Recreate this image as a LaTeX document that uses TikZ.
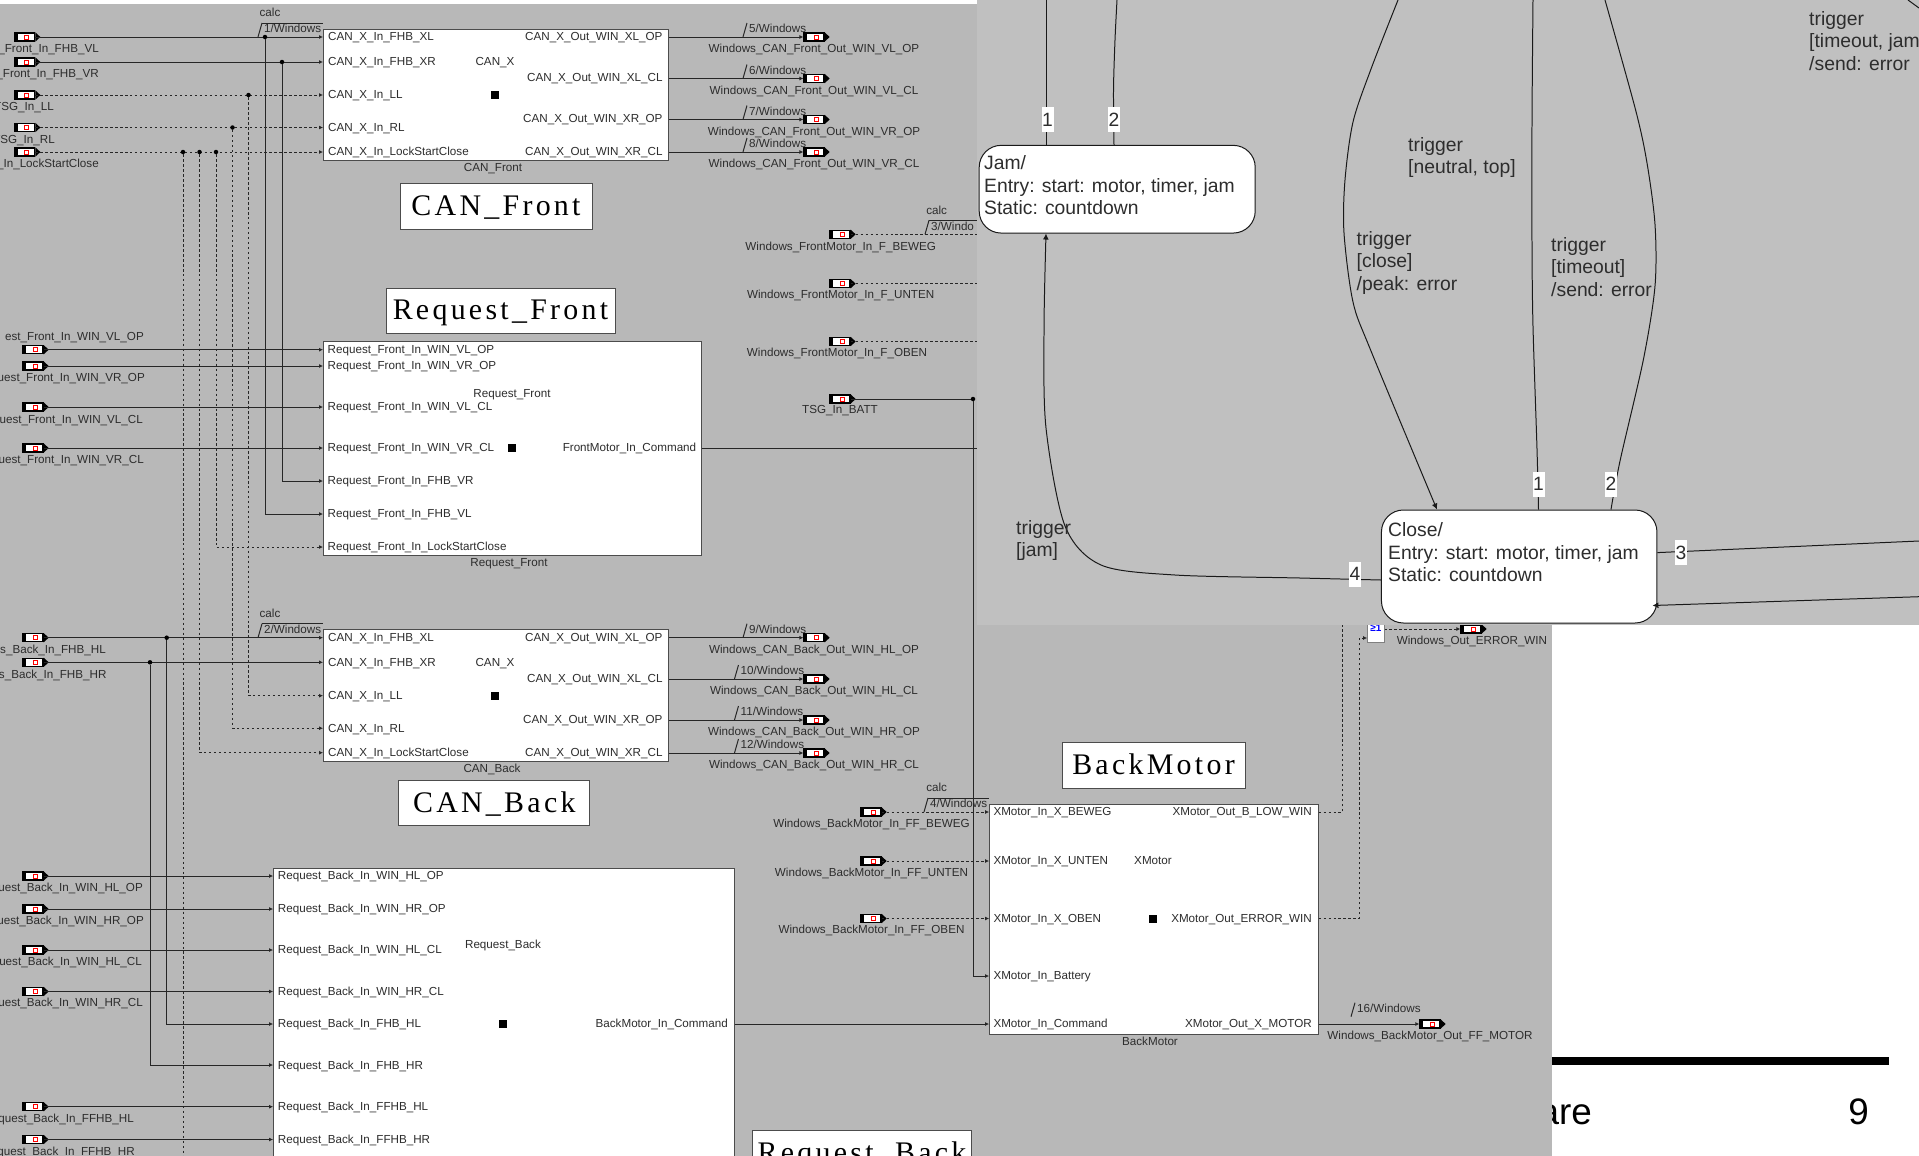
\documentclass[tikz,border=0pt]{standalone}
\usepackage{fontspec}
\setmainfont{Liberation Sans}
\newfontfamily\titlefont[LetterSpace=11]{Liberation Serif}
\usepackage{xcolor}
\usepackage{tikz}
\usetikzlibrary{arrows.meta,calc}
\definecolor{panelgray}{RGB}{184,184,184}
\definecolor{stategray}{RGB}{192,192,192}
\definecolor{inkgray}{RGB}{45,45,45}

\newcommand{\portsym}[3]{%
  \node[portbox] (#1) at (#2+10,#3) {};
  \fill (#1.north west) rectangle ($(#1.south west)+(4,0)$);
  \fill (#1.north east) -- ($(#1.east)+(5,0)$) -- (#1.south east) -- cycle;
  \node[portmark] (#1m) at ($(#1.center)+(2,0)$) {};
}
\newcommand{\bussig}[4]{%
  \coordinate (#1a) at (#2,#3);
  \coordinate (#1b) at (#2+4,#3-14);
  \draw[sig] (#1a) -- (#1b);
  \node[lbl, anchor=west] (#1t) at (#2+6,#3-8) {#4};
}
\catcode`\_=12

\begin{document}
\begin{tikzpicture}[x=1bp, y=-1bp,
  lbl/.style={font=\fontsize{11.7}{13}\selectfont, text=inkgray, inner sep=0pt,
              text height=8pt, text depth=0pt},
  sig/.style={line width=1pt, black!85},
  sigin/.style={sig, -{Latex[length=4pt,width=4pt]}},
  dsh/.style={dash pattern=on 2.5pt off 2.5pt},
  portbox/.style={rectangle, draw=black, line width=1.3pt, fill=white,
                  minimum width=20bp, minimum height=8bp, inner sep=0pt},
  portmark/.style={rectangle, draw=red, line width=1pt, fill=white,
                   minimum size=4bp, inner sep=0pt},
  block/.style={rectangle, draw=black!70, line width=1pt, fill=white, inner sep=0pt},
  titlebox/.style={rectangle, draw=black!70, line width=1pt, fill=white, inner sep=0pt,
                   font=\titlefont\fontsize{30}{30}\selectfont, text=black,
                   text height=19pt, text depth=0pt},
  junc/.style={circle, fill=black, minimum size=4.5bp, inner sep=0pt},
  cent/.style={rectangle, fill=black, minimum size=8bp, inner sep=0pt},
  statebox/.style={rectangle, draw=black!90, line width=1pt, fill=white,
                   rounded corners=22pt, inner sep=0pt},
  stxt/.style={font=\fontsize{19.4}{22.6}\selectfont, text=inkgray, inner sep=0pt,
               align=left, anchor=north west},
  trans/.style={line width=1pt, black!90},
  transin/.style={trans, -{Latex[length=6pt,width=6pt]}},
  numtag/.style={rectangle, fill=white, inner sep=0pt, minimum width=12bp, minimum height=25bp,
                 font=\fontsize{19.3}{22}\selectfont, text=inkgray},
  pagetxt/.style={font=\fontsize{37}{37}\selectfont, text=black, inner sep=0pt},
]
\useasboundingbox (0,0) rectangle (1919,1155.2);
\clip (0,0) rectangle (1919,1155.2);
\fill[white] (0,0) rectangle (1919,1157);

%% ── Page behind the panels ─────────────────────────────────────────────
\fill[black] (1500,1057) rectangle (1888.5,1065);
\node[pagetxt, anchor=base east] (foot) at (1592,1124) {are};
\node[pagetxt, anchor=base] (pnum) at (1858.5,1124) {9};

%% ── Lower panel ────────────────────────────────────────────────────────
\fill[panelgray] (0,4) rectangle (1552,1157);
\coordinate (edge) at (977,0);

%% ── Blocks ─────────────────────────────────────────────────────────────
\node[block, minimum width=345.2bp, minimum height=131bp]   (canf) at (496.1,94.5) {};
\node[block, minimum width=345.2bp, minimum height=131.3bp] (canb) at (496.1,695.4) {};
\node[block, minimum width=378bp, minimum height=213.3bp]   (reqf) at (512.5,448.4) {};
\node[block, minimum width=460.5bp, minimum height=400bp]   (reqb) at (503.8,1068) {};
\node[block, minimum width=328.5bp, minimum height=230bp]   (bmot) at (1153.8,919) {};

%% ── Block titles ───────────────────────────────────────────────────────
\node[titlebox, minimum width=192bp, minimum height=46bp] (canft) at (496,206)   {CAN_Front};
\node[titlebox, minimum width=229bp, minimum height=45bp] (reqft) at (500.5,310.5) {Request_Front};
\node[titlebox, minimum width=191bp, minimum height=45bp] (canbt) at (494.3,803.3) {CAN_Back};
\node[titlebox, minimum width=183bp, minimum height=46bp] (bmott) at (1153.5,765) {BackMotor};
\node[titlebox, minimum width=219bp, minimum height=46bp] (reqbt) at (862,1153)  {Request_Back};

%% ── CAN_X pins ─────────────────────────────────────────────────────────
\foreach \b/\d in {canf/0, canb/600.7} {
  \foreach \t/\y [count=\i] in {CAN_X_In_FHB_XL/37, CAN_X_In_FHB_XR/62, CAN_X_In_LL/95,
                                CAN_X_In_RL/127.5, CAN_X_In_LockStartClose/152} {
    \node[lbl, anchor=west] (\b i\i) at (328,\y+\d) {\t};
  }
  \foreach \t/\y [count=\i] in {CAN_X_Out_WIN_XL_OP/37, CAN_X_Out_WIN_XL_CL/78,
                                CAN_X_Out_WIN_XR_OP/119, CAN_X_Out_WIN_XR_CL/152} {
    \node[lbl, anchor=east] (\b o\i) at (662.7,\y+\d) {\t};
  }
  \node[lbl] (\b x) at (495,62+\d) {CAN_X};
  \node[cent] (\b c) at (495,95+\d) {};
}
\node[lbl] (canfn) at (493,168) {CAN_Front};
\node[lbl] (canbn) at (492,769) {CAN_Back};

%% ── Request pins ───────────────────────────────────────────────────────
\foreach \t/\y [count=\i] in {Request_Front_In_WIN_VL_OP/349.7, Request_Front_In_WIN_VR_OP/366,
                              Request_Front_In_WIN_VL_CL/407, Request_Front_In_WIN_VR_CL/448,
                              Request_Front_In_FHB_VR/481, Request_Front_In_FHB_VL/514,
                              Request_Front_In_LockStartClose/547} {
  \node[lbl, anchor=west] (rfi\i) at (327.5,\y) {\t};
}
\node[lbl] (rfx) at (512,394) {Request_Front};
\node[cent] (rfc) at (511.6,448) {};
\node[lbl, anchor=east] (rfo) at (696.4,448) {FrontMotor_In_Command};
\node[lbl] (reqfn) at (509,563) {Request_Front};

\foreach \t/\y [count=\i] in {Request_Back_In_WIN_HL_OP/876, Request_Back_In_WIN_HR_OP/909,
                              Request_Back_In_WIN_HL_CL/950, Request_Back_In_WIN_HR_CL/991.5,
                              Request_Back_In_FHB_HL/1024, Request_Back_In_FHB_HR/1065,
                              Request_Back_In_FFHB_HL/1106.7, Request_Back_In_FFHB_HR/1139.5} {
  \node[lbl, anchor=west] (rbi\i) at (277.7,\y) {\t};
}
\node[lbl] (rbx) at (503,945) {Request_Back};
\node[cent] (rbc) at (503,1023.5) {};
\node[lbl, anchor=east] (rbo) at (728,1024) {BackMotor_In_Command};

%% ── XMotor pins ────────────────────────────────────────────────────────
\foreach \t/\y [count=\i] in {XMotor_In_X_BEWEG/812, XMotor_In_X_UNTEN/861, XMotor_In_X_OBEN/918.5,
                              XMotor_In_Battery/976, XMotor_In_Command/1024} {
  \node[lbl, anchor=west] (xmi\i) at (993.3,\y) {\t};
}
\node[lbl, anchor=east] (xmo1) at (1312,812)    {XMotor_Out_B_LOW_WIN};
\node[lbl, anchor=east] (xmo2) at (1312,918.5)  {XMotor_Out_ERROR_WIN};
\node[lbl, anchor=east] (xmo3) at (1312,1024)   {XMotor_Out_X_MOTOR};
\node[lbl] (xmx) at (1153,861) {XMotor};
\node[cent] (xmc) at (1153,918.5) {};
\node[lbl] (bmotn) at (1150,1042) {BackMotor};

%% ── Input ports, left column ───────────────────────────────────────────
\foreach \n/\px/\y/\lx/\ly/\t in {
    pfvl/14.7/37/99/49/_Front_In_FHB_VL,
    pfvr/14.7/62/99/74/_Front_In_FHB_VR,
    ptll/14.7/95/54/107/TSG_In_LL,
    ptrl/14.7/127.5/55/140/TSG_In_RL,
    plck/14.7/152/99/164/_In_LockStartClose,
    prf1/23/349.7/144/337/est_Front_In_WIN_VL_OP,
    prf2/23/366/145/378/uest_Front_In_WIN_VR_OP,
    prf3/23/407/143/419.7/uest_Front_In_WIN_VL_CL,
    prf4/23/448/144/460/uest_Front_In_WIN_VR_CL,
    pbhl/23/637.7/106/649.7/s_Back_In_FHB_HL,
    pbhr/23/662.3/106.7/674.5/s_Back_In_FHB_HR,
    prb1/23/876/143/888/uest_Back_In_WIN_HL_OP,
    prb2/23/909/144/921/uest_Back_In_WIN_HR_OP,
    prb3/23/950/142/962/uest_Back_In_WIN_HL_CL,
    prb4/23/991.5/143/1003/uest_Back_In_WIN_HR_CL,
    prb7/23/1106.7/134/1118.7/quest_Back_In_FFHB_HL,
    prb8/23/1139.5/135/1151.5/quest_Back_In_FFHB_HR} {
  \portsym{\n}{\px}{\y}
  \node[lbl, anchor=east] (\n t) at (\lx,\ly) {\t};
}

%% ── Input lines ────────────────────────────────────────────────────────
\draw[sigin] (pfvl.east) -- (canf.west |- pfvl);
\draw[sigin] (pfvr.east) -- (canf.west |- pfvr);
\draw[sigin, dsh] (ptll.east) -- (canf.west |- ptll);
\draw[sigin, dsh] (ptrl.east) -- (canf.west |- ptrl);
\draw[sigin, dsh] (plck.east) -- (canf.west |- plck);
\draw[sigin] (pbhl.east) -- (canb.west |- pbhl);
\draw[sigin] (pbhr.east) -- (canb.west |- pbhr);
\foreach \i in {1,2,3,4} {
  \draw[sigin] (prf\i.east) -- (reqf.west |- rfi\i);
  \draw[sigin] (prb\i.east) -- (reqb.west |- rbi\i);
}
\foreach \i in {7,8} \draw[sigin] (prb\i.east) -- (reqb.west |- rbi\i);

%% ── Junctions and branches ─────────────────────────────────────────────
\node[junc] (jvl) at (265,37) {};
\node[junc] (jvr) at (282,62) {};
\node[junc] (jll) at (248.5,95) {};
\node[junc] (jrl) at (232.5,127.5) {};
\node[junc] (jl1) at (183,152) {};
\node[junc] (jl2) at (199.5,152) {};
\node[junc] (jl3) at (216,152) {};
\node[junc] (jhl) at (166.7,637.7) {};
\node[junc] (jhr) at (150,662.3) {};
\coordinate (jl1e) at (183,1157);

\draw[sigin] (jvl) |- (reqf.west |- rfi6);
\draw[sigin] (jvr) |- (reqf.west |- rfi5);
\draw[sigin, dsh] (jl3) |- (reqf.west |- rfi7);
\draw[sigin, dsh] (jll) |- (canb.west |- canbi3);
\draw[sigin, dsh] (jrl) |- (canb.west |- canbi4);
\draw[sigin, dsh] (jl2) |- (canb.west |- canbi5);
\draw[sig, dsh] (jl1) -- (jl1e);
\draw[sigin] (jhl) |- (reqb.west |- rbi5);
\draw[sigin] (jhr) |- (reqb.west |- rbi6);

%% ── calc markers ───────────────────────────────────────────────────────
\bussig{bs1}{258}{37}{1/Windows}
\draw[sig] (bs1b) -- (canf.west |- bs1b);
\node[lbl] (calc1) at (270,13) {calc};
\bussig{bs2}{258}{637.7}{2/Windows}
\draw[sig] (bs2b) -- (canb.west |- bs2b);
\node[lbl] (calc2) at (270,613.7) {calc};

%% ── CAN outputs ────────────────────────────────────────────────────────
\foreach \i/\b/\y/\sx/\t in {
    5/canf/37/743/Windows_CAN_Front_Out_WIN_VL_OP,
    6/canf/78.5/743/Windows_CAN_Front_Out_WIN_VL_CL,
    7/canf/119.5/743/Windows_CAN_Front_Out_WIN_VR_OP,
    8/canf/152/743/Windows_CAN_Front_Out_WIN_VR_CL,
    9/canb/637.7/743/Windows_CAN_Back_Out_WIN_HL_OP,
    10/canb/679/734.5/Windows_CAN_Back_Out_WIN_HL_CL,
    11/canb/720/734.5/Windows_CAN_Back_Out_WIN_HR_OP,
    12/canb/753/734.5/Windows_CAN_Back_Out_WIN_HR_CL} {
  \portsym{po\i}{804}{\y}
  \node[lbl] (po\i t) at (814,\y+12) {\t};
  \bussig{bs\i}{\sx}{\y}{\i/Windows}
  \draw[sigin] (\b.east |- po\i) -- (po\i.west);
}

%% ── FrontMotor inputs ──────────────────────────────────────────────────
\foreach \n/\y/\lx/\ly/\t in {
    pfm1/234.3/840.7/246.5/Windows_FrontMotor_In_F_BEWEG,
    pfm2/283.7/840.7/295/Windows_FrontMotor_In_F_UNTEN,
    pfm3/341.5/837/352.5/Windows_FrontMotor_In_F_OBEN} {
  \portsym{\n}{830}{\y}
  \node[lbl] (\n t) at (\lx,\ly) {\t};
  \draw[sig, dsh] (\n.east) -- (\n -| edge);
}
\bussig{bs3}{925}{234.3}{3/Windo}
\draw[sig] (bs3b) -- (bs3b -| edge);
\node[lbl] (calc3) at (936.7,210.7) {calc};

\draw[sig] (reqf.east |- rfo) -- (rfo -| edge);

%% ── Battery ────────────────────────────────────────────────────────────
\portsym{pbat}{830}{399}
\node[lbl] (pbatt) at (840,410) {TSG_In_BATT};
\node[junc] (jbat) at (973,399) {};
\draw[sig] (pbat.east) -- (jbat);
\draw[sigin] (jbat) |- (bmot.west |- xmi4);

%% ── BackMotor inputs ───────────────────────────────────────────────────
\foreach \n/\i/\y/\ly/\t in {
    pbm1/1/812/823.7/Windows_BackMotor_In_FF_BEWEG,
    pbm2/2/861/873/Windows_BackMotor_In_FF_UNTEN,
    pbm3/3/918.5/930/Windows_BackMotor_In_FF_OBEN} {
  \portsym{\n}{861}{\y}
  \node[lbl] (\n t) at (871.5,\ly) {\t};
  \draw[sigin, dsh] (\n.east) -- (bmot.west |- xmi\i);
}
\bussig{bs4}{924}{812}{4/Windows}
\draw[sig] (bs4b) -- (bmot.west |- bs4b);
\node[lbl] (calc4) at (936.7,788) {calc};

\draw[sigin] (reqb.east |- rbo) -- (bmot.west |- xmi5);

%% ── BackMotor outputs ──────────────────────────────────────────────────
\node[block, draw=black!50, minimum width=16.4bp, minimum height=27bp,
      font=\bfseries\fontsize{10}{10}\selectfont, text=blue] (orgate) at (1375.8,628.5) {≥1};
\portsym{perr}{1461}{629}
\node[lbl] (perrt) at (1472,641) {Windows_Out_ERROR_WIN};
\coordinate (lowtop) at (1342.7,620);
\coordinate (errbend) at (1359,638);
\draw[sig, dsh] (bmot.east |- xmo1) -| (lowtop);
\draw[sigin, dsh] (bmot.east |- xmo2) -| (errbend) -- (orgate.west |- errbend);
\draw[sigin, dsh] (orgate.east |- perr) -- (perr.west);

\portsym{pxm}{1420}{1024}
\node[lbl] (pxmt) at (1430,1036) {Windows_BackMotor_Out_FF_MOTOR};
\bussig{bs16}{1351}{1016.7}{16/Windows}
\draw[sigin] (bmot.east |- xmo3) -- (pxm.west);

%% ── Upper panel ────────────────────────────────────────────────────────
\fill[stategray] (977,0) rectangle (1919,624.7);

%% ── States ─────────────────────────────────────────────────────────────
\node[statebox, minimum width=276bp, minimum height=87.7bp]  (stjam)   at (1117.2,189.2) {};
\node[statebox, minimum width=275.5bp, minimum height=113bp] (stclose) at (1519.2,566.5) {};
\node[stxt] (jamt) at (984,155.5)
  {Jam/\\Entry: start: motor, timer, jam\\Static: countdown};
\node[stxt] (closet) at (1388,522.5)
  {Close/\\Entry: start: motor, timer, jam\\Static: countdown};

%% ── Free ends and tag places ───────────────────────────────────────────
\coordinate (tj1) at (1046,119.5);
\coordinate (tj2) at (1114,119.5);
\coordinate (tc1) at (1538.5,484);
\coordinate (tc2) at (1611,484);
\coordinate (tc3) at (1681,552.6);
\coordinate (tc4) at (1355,580);
\coordinate (fj1) at (1046,0);
\coordinate (fj2) at (1117,0);
\coordinate (fc0) at (1398,0);
\coordinate (fc1) at (1533,0);
\coordinate (fc2) at (1605,0);
\coordinate (fc3) at (1919,541);
\coordinate (fc5) at (1919,596.7);
\coordinate (cin) at ($(stclose.north west)+(56,0)$);
\coordinate (crin) at ($(stclose.east)+(-5,39)$);
\coordinate (cor1) at (1908,0);
\coordinate (cor2) at (1919,8);

%% ── Transitions ────────────────────────────────────────────────────────
\draw[trans] (stjam.north -| tj1) -- (fj1);
\draw[trans] plot[smooth, tension=.5] coordinates
  {(stjam.north -| tj2) (1113.5,90) (1115,40) (fj2)};
\draw[transin] plot[smooth, tension=.5] coordinates
  {(stclose.west |- tc4) (1300,578) (1175,575) (1101,565) (1065,526) (1046,428) (1044,330) (stjam.south -| tj1)};
\draw[transin] plot[smooth, tension=.5] coordinates
  {(fc0) (1371,69) (1353,122) (1345,180) (1344,233) (1353,302) (1371,351) (cin)};
\draw[trans] plot[smooth, tension=.5] coordinates
  {(stclose.north -| tc1) (1537,449) (1533,326.5) (1532,245) (1532,122) (fc1)};
\draw[trans] plot[smooth, tension=.5] coordinates
  {(stclose.north -| tc2) (1620,461) (1643.5,359) (1655,286) (1655,224.5) (1647,163) (1635.6,110) (fc2)};
\draw[trans] (stclose.east |- tc3) -- (fc3);
\draw[transin] (fc5) -- (crin);
\draw[trans] (cor1) -- (cor2);

%% ── Transition tags ────────────────────────────────────────────────────
\node[numtag] (nj1) at (1047.5,119.5) {1};
\node[numtag] (nj2) at (tj2) {2};
\node[numtag] (nc1) at (tc1) {1};
\node[numtag] (nc2) at (tc2) {2};
\node[numtag] (nc3) at (tc3) {3};
\node[numtag] (nc4) at (1355,574) {4};

%% ── Transition texts ───────────────────────────────────────────────────
\node[stxt] (trneutral) at (1408,137) {trigger\\{}[neutral, top]};
\node[stxt] (trclose)   at (1356.5,231) {trigger\\{}[close]\\/peak: error};
\node[stxt] (trtime)    at (1551,237) {trigger\\{}[timeout]\\/send: error};
\node[stxt] (trtimejam) at (1809,11) {trigger\\{}[timeout, jam\\/send: error};
\node[stxt] (trjam)     at (1016,520) {trigger\\{}[jam]};

\end{tikzpicture}
\end{document}
